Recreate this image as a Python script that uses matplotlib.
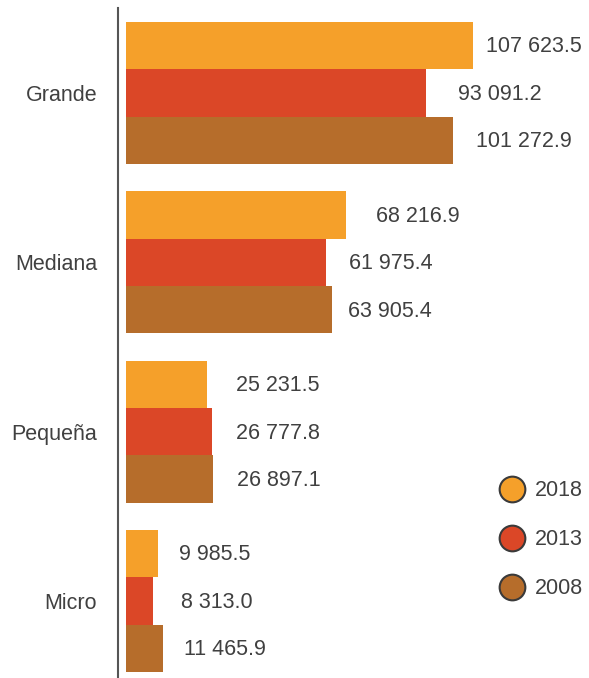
import numpy as np
import matplotlib.pyplot as plt
from matplotlib.lines import Line2D

plt.rcParams['font.family'] = ['Liberation Sans', 'DejaVu Sans']

categories = ["Grande", "Mediana", "Pequeña", "Micro"]
years = ["2018", "2013", "2008"]
values_2018 = [107623.5, 68216.9, 25231.5, 9985.5]
values_2013 = [93091.2, 61975.4, 26777.8, 8313.0]
values_2008 = [101272.9, 63905.4, 26897.1, 11465.9]
colors = ["#F5A02A", "#DB4727", "#B66D2B"]

# gap between bar end and its label, in pixels (per series, per category)
label_gap = [[13, 30, 29, 21], [32, 23, 24, 28], [23, 16, 24, 21]]

text_color = "#404040"
fs = 15.5

fig = plt.figure(figsize=(5.89, 6.78), dpi=100)
ax = fig.add_axes([118 / 589, 0, 471 / 589, 670 / 678])

y = np.arange(len(categories))
h = 0.28
series = [values_2018, values_2013, values_2008]
for i, (vals, col) in enumerate(zip(series, colors)):
    pos = y + (i - 1) * h
    bars = ax.barh(pos, vals, height=h, color=col, left=0)
    for j, (rect, v) in enumerate(zip(bars, vals)):
        label = f"{v:,.1f}".replace(",", " ")
        ax.annotate(label, (rect.get_width(), rect.get_y() + rect.get_height() / 2),
                    xytext=(label_gap[i][j] * 0.72, -1), textcoords="offset points",
                    ha="left", va="center", fontsize=fs, color=text_color)

ax.set_xlim(-2480, 143500)
ax.set_ylim(3.455, -0.502)
ax.set_yticks(y)
ax.set_yticklabels(categories, fontsize=fs, color=text_color)
ax.tick_params(axis="y", length=0, pad=15)
ax.set_xticks([])
for s in ["top", "right", "bottom"]:
    ax.spines[s].set_visible(False)
ax.spines["left"].set_color("#555555")
ax.spines["left"].set_linewidth(1.5)

handles = [Line2D([], [], marker="o", linestyle="none", markersize=18.5,
                  markerfacecolor=c, markeredgecolor="#3a3a3a", markeredgewidth=1.5)
           for c in colors]
fig.legend(handles, years, loc="upper left", bbox_to_anchor=(0.815, 0.32),
           frameon=False, fontsize=fs, labelcolor=text_color,
           handletextpad=0.45, labelspacing=1.3, handlelength=1.2)

fig.savefig("out.png", dpi=100)
